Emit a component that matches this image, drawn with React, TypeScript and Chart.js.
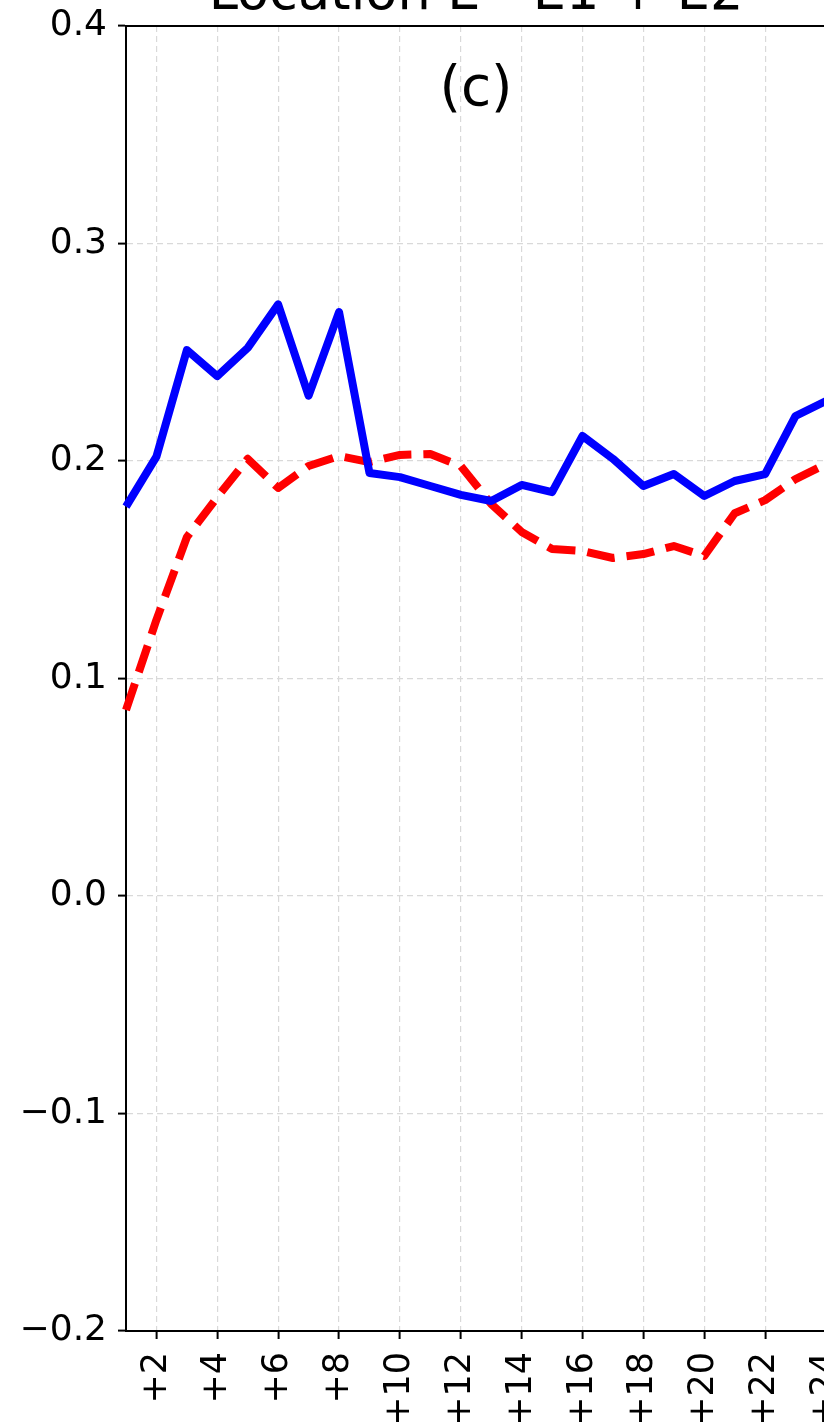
import React, { useEffect, useRef } from 'react';
import { Chart, registerables } from 'chart.js';

Chart.register(...registerables);

const categories = ['+1', '+2', '+3', '+4', '+5', '+6', '+7', '+8', '+9', '+10', '+11', '+12',
  '+13', '+14', '+15', '+16', '+17', '+18', '+19', '+20', '+21', '+22', '+23', '+24'];
const blueValues = [0.179, 0.202, 0.251, 0.239, 0.252, 0.272, 0.230, 0.2685, 0.1945, 0.1926, 0.1885, 0.1844,
  0.1816, 0.189, 0.1857, 0.2115, 0.201, 0.1885, 0.194, 0.1839, 0.1908, 0.194, 0.2207, 0.2276];
const redValues = [0.0855, 0.127, 0.165, 0.1834, 0.201, 0.1876, 0.1977, 0.2023, 0.1995, 0.2028, 0.2032, 0.1977,
  0.1802, 0.1674, 0.1595, 0.1586, 0.1554, 0.1572, 0.1609, 0.1563, 0.176, 0.182, 0.1917, 0.1986];
const yTicks = [-0.2, -0.1, 0.0, 0.1, 0.2, 0.3, 0.4];
const titleText = 'Location E - E1 + E2';
const panelLabel = '(c)';

const FONT = '"DejaVu Sans", "Liberation Sans", sans-serif';

const decorPlugin = {
  id: 'decor',
  afterDraw(chart: any) {
    const { ctx, chartArea } = chart;
    const cx = (chartArea.left + chartArea.right) / 2;
    ctx.save();
    ctx.strokeStyle = '#000';
    ctx.lineWidth = 2;
    ctx.setLineDash([]);
    ctx.beginPath();
    ctx.moveTo(chartArea.left, chartArea.top);
    ctx.lineTo(chartArea.right, chartArea.top);
    ctx.lineTo(chartArea.right, chartArea.bottom);
    ctx.stroke();
    ctx.fillStyle = '#000';
    ctx.textAlign = 'center';
    ctx.textBaseline = 'alphabetic';
    ctx.font = `52.5px ${FONT}`;
    ctx.fillText(titleText, cx, chartArea.top - 17);
    ctx.font = `55px ${FONT}`;
    ctx.fillText(panelLabel, cx, chartArea.top + 79);
    ctx.restore();
  },
};

export default function App() {
  const ref = useRef<HTMLCanvasElement | null>(null);

  useEffect(() => {
    if (!ref.current) return;
    const chart = new Chart(ref.current, {
      type: 'line',
      data: {
        labels: categories,
        datasets: [
          {
            label: 'E1 + E2',
            data: blueValues,
            borderColor: '#0000ff',
            backgroundColor: '#0000ff',
            borderWidth: 8,
            pointRadius: 0,
            borderJoinStyle: 'round',
            borderCapStyle: 'butt',
            tension: 0,
          },
          {
            label: 'reference',
            data: redValues,
            borderColor: '#ff0000',
            backgroundColor: '#ff0000',
            borderWidth: 8,
            borderDash: [28, 12],
            pointRadius: 0,
            borderJoinStyle: 'round',
            borderCapStyle: 'butt',
            tension: 0,
          },
        ],
      },
      options: {
        responsive: false,
        animation: false,
        devicePixelRatio: 1,
        layout: { padding: { left: 0, right: 74, top: 106, bottom: 0 } },
        plugins: {
          legend: { display: false },
          title: { display: false },
          tooltip: { enabled: false },
        },
        scales: {
          x: {
            type: 'category',
            offset: false,
            afterFit: (scale: any) => { scale.height = 100; },
            grid: {
              color: (ctx: any) => (ctx.index % 2 === 1 ? '#d9d9d9' : 'rgba(0,0,0,0)'),
              lineWidth: 1.2,
              tickLength: 8,
              tickWidth: 2,
              tickColor: (ctx: any) => (ctx.index % 2 === 1 ? '#000' : 'rgba(0,0,0,0)'),
              tickBorderDash: [],
            },
            border: { display: true, color: '#000', width: 2, dash: [6, 4] },
            ticks: {
              autoSkip: false,
              maxRotation: 90,
              minRotation: 90,
              padding: 13,
              color: '#000',
              font: { family: FONT, size: 35 },
              callback: (_v: any, idx: number) => (idx % 2 === 1 ? categories[idx] : ''),
            },
          },
          y: {
            type: 'linear',
            min: -0.2,
            max: 0.4,
            afterFit: (scale: any) => { scale.width = 126; },
            afterBuildTicks: (scale: any) => { scale.ticks = yTicks.map((v) => ({ value: v })); },
            grid: {
              color: '#d9d9d9',
              lineWidth: 1.2,
              tickLength: 8,
              tickWidth: 2,
              tickColor: '#000',
              tickBorderDash: [],
            },
            border: { display: true, color: '#000', width: 2, dash: [6, 4] },
            ticks: {
              padding: 11,
              color: '#000',
              font: { family: FONT, size: 36 },
              callback: (v: any) => {
                const n = Math.abs(Number(v)) < 1e-9 ? 0 : Number(v);
                return n.toFixed(1).replace('-', '\u2212');
              },
            },
          },
        },
      },
      plugins: [decorPlugin],
    });
    return () => chart.destroy();
  }, []);

  return (
    <div style={{ position: 'fixed', left: 0, top: 0, width: 824, height: 1422, overflow: 'hidden', background: '#fff' }}>
      <canvas
        ref={ref}
        width={900}
        height={1511}
        style={{ position: 'absolute', left: 0, top: -80, width: 900, height: 1511 }}
      />
    </div>
  );
}
